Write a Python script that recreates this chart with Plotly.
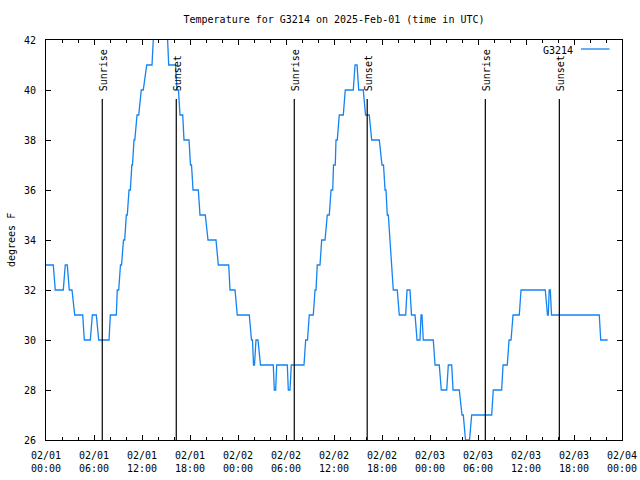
import pandas as pd
import plotly.graph_objects as go

# ---- data ----
start_time = "2025-02-01 00:00"
hours_from_start = [
    0.00, 0.91, 1.16, 2.16, 2.41, 2.66, 2.91, 3.25, 3.59, 4.59, 4.79, 5.54, 5.79, 6.29, 6.59, 7.88,
    8.04, 8.79, 8.91, 9.09, 9.31, 9.44, 9.69, 9.84, 10.04, 10.16, 10.38, 10.54, 10.73, 10.81,
    11.00, 11.10, 11.38, 11.59, 11.91, 12.16, 12.59, 13.25, 13.41, 13.56, 15.06, 15.19,
    15.34, 16.19, 16.38, 16.56, 16.75, 17.09, 17.25, 17.88, 18.06, 18.19, 18.38, 19.04,
    19.25, 19.91, 20.25, 21.25, 21.54, 22.84, 23.00, 23.63, 23.91, 25.41, 25.69, 25.81,
    25.94, 26.06, 26.25, 26.50, 26.81, 28.41, 28.54, 28.71, 28.84, 30.16, 30.29, 30.50,
    30.66, 32.25, 32.46, 32.69, 32.91, 33.41, 33.63, 33.75, 33.91, 34.25, 34.46, 34.88,
    35.16, 35.41, 35.63, 35.84, 35.94, 36.16, 36.25, 36.41, 36.66, 37.16, 37.41, 38.41,
    38.63, 38.88, 39.09, 39.66, 39.94, 40.41, 40.71, 41.66, 42.00, 42.19, 42.38, 42.50,
    42.66, 42.79, 43.00, 43.19, 43.41, 43.91, 44.16, 44.96, 45.13, 45.50, 45.69, 46.13,
    46.38, 46.75, 46.88, 47.00, 47.16, 48.41, 48.63, 49.16, 49.41, 50.09, 50.29, 50.71,
    50.88, 51.66, 52.00, 52.16, 52.44, 52.94, 53.21, 55.71, 55.91, 56.96, 57.13, 57.66,
    57.88, 58.13, 58.38, 59.16, 59.38, 62.41, 62.69, 62.79, 62.90, 63.04, 63.19, 69.16,
    69.34, 70.21,
]
temps_f = [
    33, 33, 32, 32, 33, 33, 32, 32, 31, 31, 30, 30, 31, 31, 30, 30,
    31, 31, 32, 32, 33, 33, 34, 34, 35, 35, 36, 36, 37, 37,
    38, 38, 39, 39, 40, 40, 41, 41, 42, 43, 43, 42,
    41, 41, 40, 40, 39, 39, 38, 38, 37, 37, 36, 36,
    35, 35, 34, 34, 33, 33, 32, 32, 31, 31, 30, 30,
    29, 29, 30, 30, 29, 29, 28, 28, 29, 29, 28, 28,
    29, 29, 30, 30, 31, 31, 32, 32, 33, 33, 34, 34,
    35, 35, 36, 36, 37, 37, 38, 38, 39, 39, 40, 40,
    41, 41, 40, 40, 39, 39, 38, 38, 37, 37, 36, 36,
    35, 35, 34, 33, 32, 32, 31, 31, 32, 32, 31, 31,
    30, 30, 31, 31, 30, 30, 29, 29, 28, 28, 29, 29,
    28, 28, 27, 27, 26, 26, 27, 27, 28, 28, 29, 29,
    30, 30, 31, 31, 32, 32, 31, 31, 32, 32, 31, 31,
    30, 30,
]
sun_events = ["Sunrise", "Sunset", "Sunrise", "Sunset", "Sunrise", "Sunset"]
sun_times = ["2025-02-01 07:02", "2025-02-01 16:17", "2025-02-02 07:02",
             "2025-02-02 16:09", "2025-02-03 06:55", "2025-02-03 16:10"]
tick_times = pd.date_range("2025-02-01 00:00", "2025-02-04 00:00", freq="6h")
tick_labels = [t.strftime("%m/%d<br>%H:%M") for t in tick_times]
station = "G3214"
title_text = "Temperature for G3214 on 2025-Feb-01 (time in UTC)"

# ---- build ----
FONT = "DejaVu Sans Mono"
LINE_BLUE = "#1584f2"
times = pd.Timestamp(start_time) + pd.to_timedelta(hours_from_start, unit="h")

fig = go.Figure()
fig.add_trace(go.Scatter(x=times, y=temps_f, mode="lines", name=station,
                         line=dict(color=LINE_BLUE, width=1.3), showlegend=False))

for ev, t in zip(sun_events, sun_times):
    fig.add_shape(type="line", xref="x", yref="paper", x0=t, x1=t, y0=0, y1=0.8525,
                  line=dict(color="black", width=1.2))
    fig.add_annotation(x=t, xref="x", y=0.87, yref="paper", text=ev, textangle=-90,
                       showarrow=False, xanchor="center", yanchor="bottom", xshift=1,
                       font=dict(family=FONT, size=10, color="black"), borderpad=0)

# manual gnuplot-style key
fig.add_annotation(x=(574 - 46) / 576, xref="paper", y=(440 - 50) / 400, yref="paper",
                   text=station, showarrow=False, xanchor="right", yanchor="middle",
                   font=dict(family=FONT, size=10, color="black"), borderpad=0)
fig.add_shape(type="line", xref="paper", yref="paper", x0=(581 - 46) / 576, x1=(609.5 - 46) / 576,
              y0=(440 - 49) / 400, y1=(440 - 49) / 400, line=dict(color=LINE_BLUE, width=1.3))

# y-axis title
fig.add_annotation(x=(11 - 46) / 576, xref="paper", y=0.5, yref="paper", text="degrees F",
                   textangle=-90, showarrow=False, xanchor="center", yanchor="middle",
                   font=dict(family=FONT, size=10, color="black"))

fig.update_layout(
    width=640, height=480,
    margin=dict(l=46, r=18, t=40, b=40),
    paper_bgcolor="white", plot_bgcolor="white",
    font=dict(family=FONT, size=10, color="black"),
    title=dict(text=title_text, x=(46 + 622) / 2 / 640, xanchor="center",
               y=1 - 19 / 480, yanchor="middle", font=dict(family=FONT, size=10, color="black")),
    showlegend=False,
)
fig.update_xaxes(
    type="date", range=["2025-02-01 00:00", "2025-02-04 00:00"],
    tickmode="array", tickvals=list(tick_times), ticktext=tick_labels,
    ticks="inside", ticklen=5, tickwidth=1, tickcolor="black",
    minor=dict(dtick=2 * 3600000, ticks="inside", ticklen=3, tickwidth=1, tickcolor="black", showgrid=False),
    showline=True, linecolor="black", linewidth=1, mirror="ticks",
    showgrid=False, zeroline=False, tickangle=0, automargin=False, ticklabelstandoff=6,
)
fig.update_yaxes(
    range=[26, 42], dtick=2, tick0=26,
    ticks="inside", ticklen=5, tickwidth=1, tickcolor="black",
    showline=True, linecolor="black", linewidth=1, mirror="ticks",
    showgrid=False, zeroline=False, automargin=False, ticklabelstandoff=7,
)

fig.write_html("out.html", config={"displayModeBar": False},
               post_script="document.body.style.margin='0';")
